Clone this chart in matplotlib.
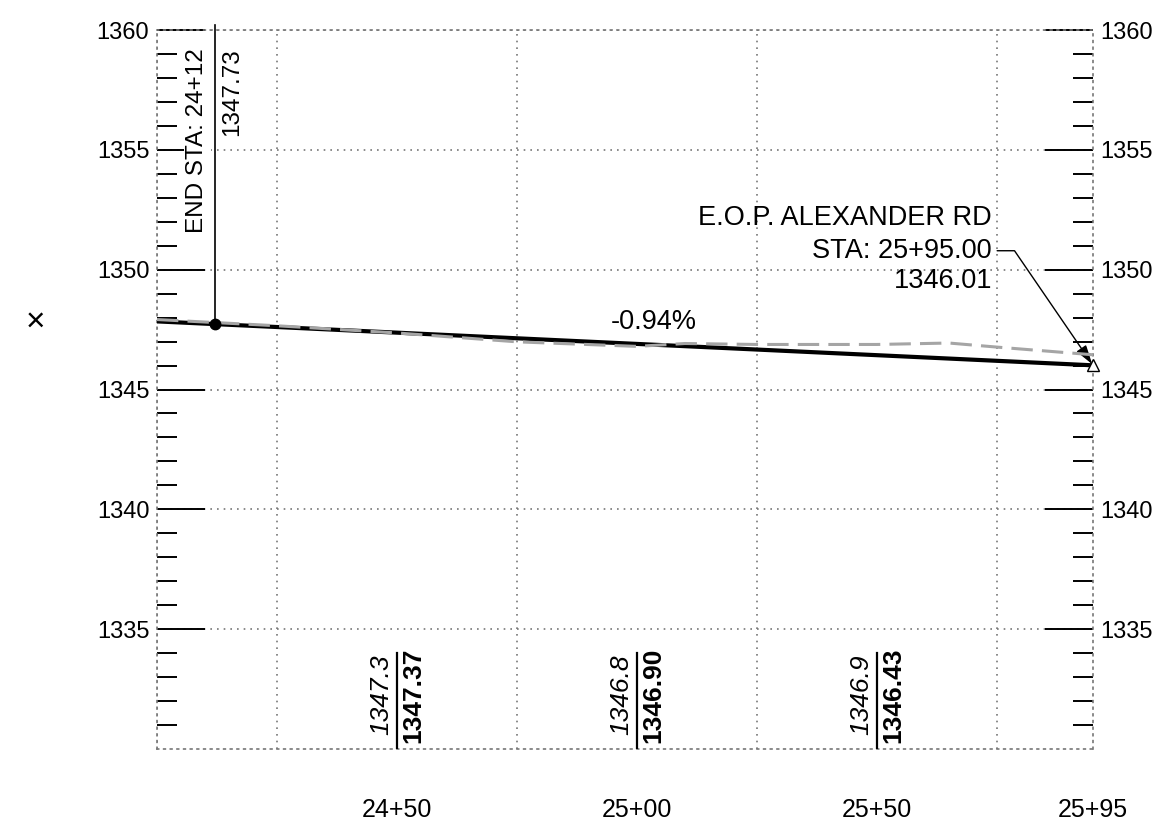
import matplotlib
matplotlib.use("Agg")
import matplotlib.pyplot as plt
from matplotlib.ticker import MultipleLocator, FixedLocator

plt.rcParams['font.family'] = ['Liberation Sans', 'DejaVu Sans']

# proposed grade
end_sta = 2412
end_elev = 1347.73
grade = -0.94
x_min, x_max = 2400, 2595
y_min, y_max = 1330, 1360

# existing ground (dashed)
eg_sta = [2400, 2425, 2450, 2475, 2500, 2510, 2525, 2550, 2565, 2575, 2595]
eg_elev = [1347.92, 1347.66, 1347.36, 1346.99, 1346.80, 1346.92, 1346.88,
           1346.88, 1346.94, 1346.77, 1346.45]

# station labels along the bottom
lbl_sta = [2450, 2500, 2550]
lbl_exist = ["1347.3", "1346.8", "1346.9"]
lbl_prop = ["1347.37", "1346.90", "1346.43"]

xtick_pos = [2450, 2500, 2550, 2595]
xtick_lbl = ["24+50", "25+00", "25+50", "25+95"]
ytick_pos = [1335, 1340, 1345, 1350, 1355, 1360]

eop_sta = 2595
eop_elev = 1346.01


def elev_at(s):
    return end_elev + (s - end_sta) * grade / 100.0


fig = plt.figure(figsize=(11.76, 8.25), dpi=100)
ax = fig.add_axes([0.1335, 0.0921, 0.7959, 0.8715])
ax.set_xlim(x_min, x_max)
ax.set_ylim(y_min, y_max)

# grid + axes styling
ax.xaxis.set_major_locator(FixedLocator(xtick_pos))
ax.set_xticklabels(xtick_lbl, fontsize=18)
ax.xaxis.set_minor_locator(MultipleLocator(25))
ax.set_yticks(ytick_pos)
minor_y = [v for v in range(y_min + 1, y_max) if v % 5 != 0]
ax.yaxis.set_minor_locator(FixedLocator(minor_y))
dot = (0, (1, 3))
ax.grid(True, which='minor', axis='x', color='#777777', linestyle=dot, lw=1.2)
ax.grid(True, which='major', axis='y', color='#777777', linestyle=dot, lw=1.2)
for sp in ax.spines.values():
    sp.set_linestyle(dot)
    sp.set_color('#777777')
    sp.set_linewidth(1.2)

ax.tick_params(axis='x', which='both', length=0, pad=35)
ax.tick_params(axis='y', which='major', direction='in', length=34.5, width=1.4,
               left=True, right=True, labelleft=True, labelright=True,
               labelsize=17, pad=5.5)
ax.tick_params(axis='y', which='minor', direction='in', length=14.4, width=1.4,
               left=True, right=True)

# proposed profile
ax.plot([x_min, x_max], [elev_at(x_min), elev_at(x_max)], color='black', lw=3, zorder=3)
# existing ground
ax.plot(eg_sta, eg_elev, color='#a5a5a5', lw=2.2, dashes=(7, 3), zorder=4)

# end station marker and label
ax.plot([end_sta, end_sta], [end_elev, y_max + 0.2], color='black', lw=1.2,
        clip_on=False, zorder=3)
ax.plot([end_sta], [end_elev], 'o', color='black', ms=7.5, zorder=5)
ax.annotate("END STA: 24+12", (end_sta, 1359.25), xytext=(-4.5, 0), textcoords='offset points',
            rotation=90, ha='right', va='top', fontsize=17.5, zorder=4,
            bbox=dict(fc='white', ec='none', pad=1.5))
ax.annotate(f"{end_elev:.2f}", (end_sta, 1359.25), xytext=(5, 0), textcoords='offset points',
            rotation=90, ha='left', va='top', fontsize=17.5)

# grade label
mid = 2503.5
ax.annotate(f"{grade:.2f}%", (mid, elev_at(mid)), xytext=(0, 7), textcoords='offset points',
            ha='center', va='bottom', fontsize=19.5)

# E.O.P. callout
ax.plot([eop_sta], [eop_elev], marker='^', ms=8, mfc='white', mec='black', mew=1,
        clip_on=False, zorder=6)
ax.annotate("E.O.P. ALEXANDER RD", (eop_sta, eop_elev), xytext=(-73, 106),
            textcoords='offset points', ha='right', va='center', fontsize=19.5)
ax.annotate("STA: 25+95.00", (eop_sta, eop_elev), xytext=(-73, 82.5),
            textcoords='offset points', ha='right', va='center', fontsize=19.5,
            annotation_clip=False,
            arrowprops=dict(arrowstyle='-|>,head_length=0.6,head_width=0.18',
                            color='black', lw=1, relpos=(1, 0.5), shrinkA=2, shrinkB=1,
                            connectionstyle='angle,angleA=0,angleB=124.4,rad=0'))
ax.annotate(f"{eop_elev:.2f}", (eop_sta, eop_elev), xytext=(-72.5, 60.5),
            textcoords='offset points', ha='right', va='center', fontsize=19.5)

# bottom elevation labels
for s, e_txt, p_txt in zip(lbl_sta, lbl_exist, lbl_prop):
    ax.plot([s, s], [y_min, y_min + 4], color='black', lw=1.6, zorder=3)
    ax.annotate(e_txt, (s, 1332.25), xytext=(-3, 0), textcoords='offset points',
                rotation=90, ha='right', va='center', fontsize=19, style='italic')
    ax.annotate(p_txt, (s, 1332.25), xytext=(3, 0), textcoords='offset points',
                rotation=90, ha='left', va='center', fontsize=19, fontweight='bold')

fig.text(35 / 1176, 1 - 322 / 825, "×", ha='center', va='center', fontsize=24)

fig.savefig("out.png", dpi=100)
